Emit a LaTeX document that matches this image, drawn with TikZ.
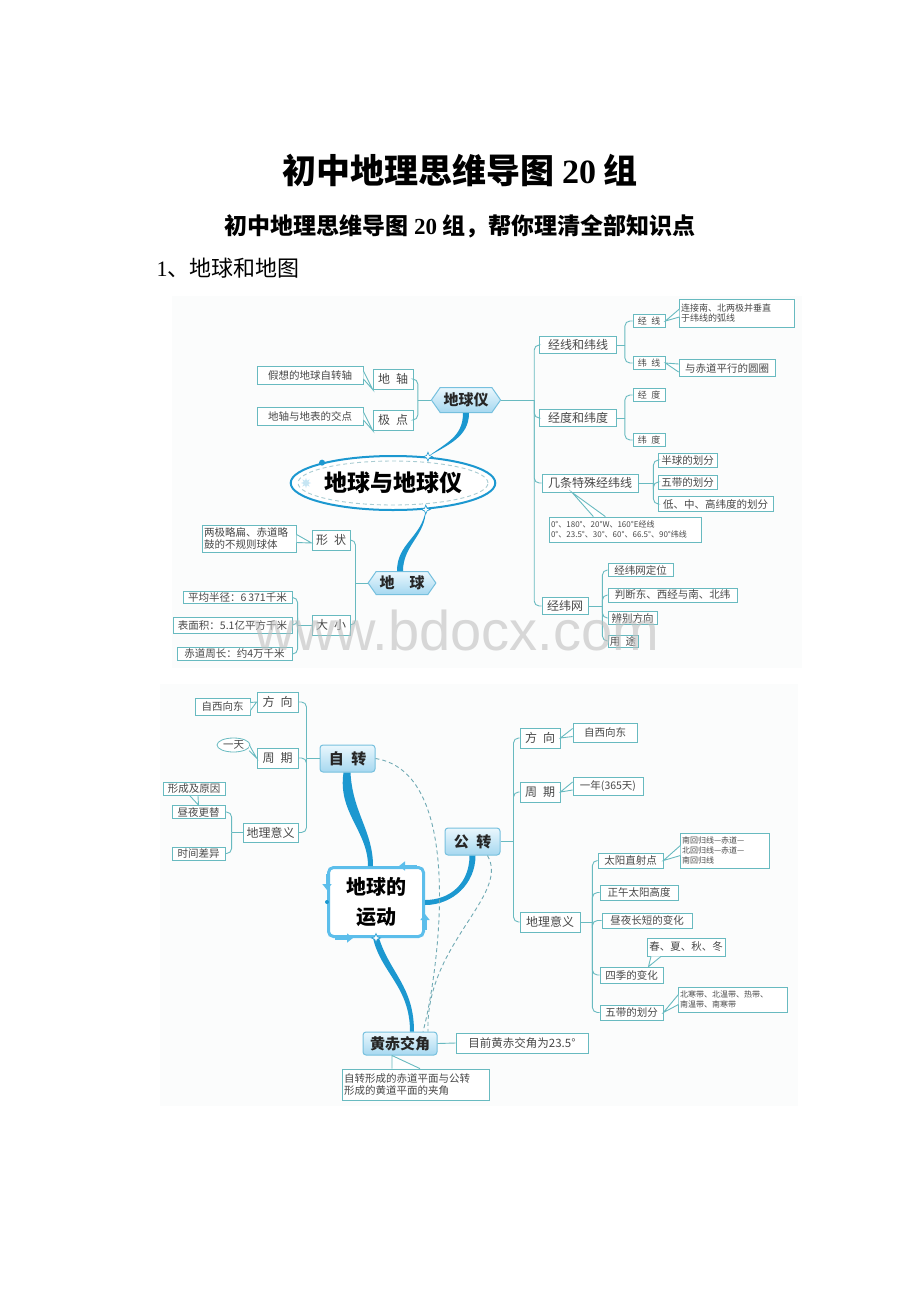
\documentclass[tikz,border=0pt]{standalone}
\usepackage{fontspec}
\setmainfont{Liberation Serif}
\newfontfamily\cjk{Noto Sans CJK SC}
\newfontfamily\wmfont{Liberation Sans}
\usepackage{tikz}
\usetikzlibrary{calc,shapes.geometric,shapes.symbols,arrows.meta}
\definecolor{leafc}{RGB}{104,186,192}
\definecolor{txtc}{RGB}{72,72,72}
\definecolor{hubline}{RGB}{118,192,222}
\definecolor{hubtop}{RGB}{234,247,253}
\definecolor{hubbot}{RGB}{166,216,240}
\definecolor{flowc}{RGB}{28,152,208}
\definecolor{ydqc}{RGB}{92,190,235}
\definecolor{dashc}{RGB}{112,170,180}
\definecolor{panelc}{RGB}{251,252,252}
\def\callout(#1)(#2)(#3){\fill[white] ($(#1)+(#3)$) -- (#2) -- ($(#1)-(#3)$) -- cycle; \draw[link,sharp corners] ($(#1)+(#3)$) -- (#2) -- ($(#1)-(#3)$);}
\tikzset{
	leaf/.style={draw=leafc, fill=white, text=txtc, line width=0.8pt, inner sep=1.2pt, font=\cjk\fontsize{10.5}{12}\selectfont},
	small/.style={leaf, font=\cjk\fontsize{9}{10.5}\selectfont, align=left},
	mid/.style={leaf, font=\cjk\fontsize{12}{14}\selectfont},
	hub/.style={draw=hubline, top color=hubtop, bottom color=hubbot, text=black!85, line width=1pt, rounded corners=3pt, font=\cjk\bfseries\fontsize{15}{17}\selectfont},
	hexhub/.style={hub, shape=signal, signal to=west and east, signal pointer angle=110, rounded corners=0pt},
	link/.style={draw=leafc, line width=0.9pt, rounded corners=5pt},
	flow/.style={fill=flowc},
	dashlink/.style={draw=dashc, line width=0.9pt, dash pattern=on 4pt off 3pt},
	burst/.style={star, star points=4, star point ratio=2.5, fill=white, draw=flowc, line width=0.6pt, minimum size=9pt, inner sep=0pt},
	corner/.style={draw=ydqc, line width=3pt, -{Triangle[length=6pt,width=9pt]}},
}

\begin{document}
\begin{tikzpicture}[x=1pt,y=-1pt]
	%%%%% START %%%%%
	\useasboundingbox[fill=white] (0,0) rectangle (920,1302);
	
	% headings
	\node (title) at (460,170) {\cjk\bfseries\fontsize{34}{40}\selectfont 初中地理思维导图 {\rmfamily\bfseries 20} 组};
	\node (subtitle) at (460,226) {\cjk\bfseries\fontsize{23}{27}\selectfont 初中地理思维导图 {\rmfamily\bfseries 20} 组，帮你理清全部知识点};
	\node[anchor=west] (section) at (153,268) {\fontsize{22}{26}\selectfont 1{\cjk 、地球和地图}};
	
	% map 1
	\fill[panelc] (172,296) rectangle (802,668);
	\node[leaf, minimum width=106, minimum height=18] (jiaxiang) at (310,375) {假想的地球自转轴};
	\node[mid, minimum width=40, minimum height=20] (dizhou) at (393,379) {地\enspace 轴};
	\node[leaf, minimum width=106, minimum height=18] (jiaodian) at (310,416) {地轴与地表的交点};
	\node[mid, minimum width=40, minimum height=20] (jidian) at (393,420) {极\enspace 点};
	\node[hexhub, minimum width=68, minimum height=25] (diqiuyi) at (466,400) {地球仪};
	
	\node[mid, minimum width=77, minimum height=17] (jwx) at (578,345) {经线和纬线};
	\node[small, minimum width=32, minimum height=13] (jingxian) at (649,321) {经\enspace 线};
	\node[small, minimum width=32, minimum height=13] (weixian) at (649,363) {纬\enspace 线};
	\node[small, text width=112, minimum height=28] (lianjie) at (737,313) {连接南、北两极并垂直\\于纬线的弧线};
	\node[leaf, minimum width=96, minimum height=17] (yuquan) at (727,368) {与赤道平行的圆圈};
	\node[mid, minimum width=77, minimum height=17] (jdwd) at (578,418) {经度和纬度};
	\node[small, minimum width=32, minimum height=13] (jingdu) at (649,395) {经\enspace 度};
	\node[small, minimum width=32, minimum height=13] (weidu) at (649,440) {纬\enspace 度};
	\node[mid, minimum width=96, minimum height=18] (jtts) at (590,483) {几条特殊经纬线};
	\node[leaf, minimum width=59, minimum height=14] (banqiu) at (687.5,460) {半球的划分};
	\node[leaf, minimum width=59, minimum height=14] (wudaia) at (687.5,482) {五带的划分};
	\node[leaf, minimum width=115, minimum height=15] (dzg) at (715.5,504) {低、中、高纬度的划分};
	\node[small, text width=149, minimum height=25, font=\cjk\fontsize{8}{10}\selectfont] (teshu) at (625.5,529.5) {0°、180°、20°W、160°E经线\\0°、23.5°、30°、60°、66.5°、90°纬线};
	\node[mid, minimum width=46, minimum height=17] (jww) at (565,606) {经纬网};
	\node[leaf, minimum width=65, minimum height=13] (dingwei) at (640.5,570) {经纬网定位};
	\node[leaf, minimum width=129, minimum height=14] (panduan) at (672.5,595) {判断东、西经与南、北纬};
	\node[leaf, minimum width=49, minimum height=13] (bianbie) at (632.5,618) {辨别方向};
	\node[leaf, minimum width=30, minimum height=12] (yongtu) at (623,641) {用\enspace 途};
	
	\node[ellipse, draw=flowc, line width=2pt, fill=white, minimum width=200, minimum height=54, font=\cjk\bfseries\fontsize{23}{27}\selectfont] (dqydq) at (393,483) {地球与地球仪};
	\draw[dashlink, draw=dashc!60] (dqydq.center) ellipse (95pt and 22pt);
	\fill[flowc] (dqydq.164) circle (3pt);
	\node[star, star points=8, star point ratio=2, fill=flowc!25, minimum size=10pt, inner sep=0pt] (sunmark) at (306,483) {};
	
	\node[hexhub, minimum width=65, minimum height=23] (diqiu) at (402,583) {地\quad 球};
	\node[mid, minimum width=38, minimum height=20] (xingzhuang) at (331,540) {形\enspace 状};
	\node[leaf, text width=91, minimum height=27, align=left] (liangji) at (249.5,538.5) {两极略扁、赤道略\\鼓的不规则球体};
	\node[mid, minimum width=38, minimum height=20] (daxiao) at (331,625) {大\enspace 小};
	\node[leaf, minimum width=109, minimum height=12] (banjing) at (237.5,597.5) {平均半径：6\,371千米};
	\node[leaf, minimum width=119, minimum height=16] (biaomian) at (232.5,625) {表面积：5.1亿平方千米};
	\node[leaf, minimum width=115, minimum height=13] (zhouchang) at (234.5,654) {赤道周长：约4万千米};
	
	\draw[link] (diqiuyi.west) -- ++(-13,0) coordinate (ta);
	\draw[link] (ta) |- (dizhou.east);
	\draw[link] (ta) |- (jidian.east);
	\draw[link] (diqiuyi.east) -- ++(33,0) coordinate (tb);
	\draw[link] (tb) |- (jwx.west);
	\draw[link] (tb) |- (jdwd.west);
	\draw[link] (tb) |- (jtts.west);
	\draw[link] (tb) |- (jww.west);
	\draw[link] (jwx.east) -- ++(8,0) coordinate (tc);
	\draw[link] (tc) |- (jingxian.west);
	\draw[link] (tc) |- (weixian.west);
	\draw[link] (jdwd.east) -- ++(8,0) coordinate (td);
	\draw[link] (td) |- (jingdu.west);
	\draw[link] (td) |- (weidu.west);
	\draw[link] (jtts.east) -- ++(15,0) coordinate (te);
	\draw[link] (te) |- (banqiu.west);
	\draw[link] (te) |- (wudaia.west);
	\draw[link] (te) |- (dzg.west);
	\draw[link] (jww.east) -- ++(14,0) coordinate (tf);
	\draw[link] (tf) |- (dingwei.west);
	\draw[link] (tf) |- (panduan.west);
	\draw[link] (tf) |- (bianbie.west);
	\draw[link] (tf) |- (yongtu.west);
	\draw[link] (diqiu.west) -- ++(-12,0) coordinate (tg);
	\draw[link] (tg) |- (xingzhuang.east);
	\draw[link] (tg) |- (daxiao.east);
	\draw[link] (daxiao.west) -- ++(-14,0) coordinate (th);
	\draw[link] (th) |- (banjing.east);
	\draw[link] (th) |- (biaomian.east);
	\draw[link] (th) |- (zhouchang.east);
	
	\callout(jiaxiang.east)(dizhou.south west)(0,4)
	\callout(jiaodian.east)(jidian.south west)(0,4)
	\callout(liangji.east)([yshift=-3pt]xingzhuang.west)(0,4)
	\coordinate (tsb) at ([xshift=50pt]teshu.north west);
	\callout(tsb)([xshift=-18pt]jtts.south)(6,0)
	\callout(lianjie.west)(jingxian.east)(0,4)
	\callout(yuquan.west)(weixian.east)(0,4)
	
	\fill[flow] ([xshift=-3pt]diqiuyi.south) .. controls +(0,24) and +(18,-14) .. (dqydq.37) .. controls +(20,-12) and +(0,24) .. ([xshift=3pt]diqiuyi.south) -- cycle;
	\fill[flow] (dqydq.-39) .. controls +(-4,28) and +(0,-28) .. ([xshift=-5pt]diqiu.north) -- ([xshift=1pt]diqiu.north) .. controls +(0,-26) and +(0,26) .. (dqydq.-39) -- cycle;
	\node[burst] (bursta) at (dqydq.37) {};
	\node[burst] (burstb) at (dqydq.-39) {};
	
	% map 2
	\fill[panelc] (160,684) rectangle (798,1106);
	\node[mid, minimum width=41, minimum height=20] (fxa) at (277.5,702) {方\enspace 向};
	\node[leaf, minimum width=55, minimum height=17] (zxxda) at (222.5,706.5) {自西向东};
	\node[mid, minimum width=41, minimum height=20] (zqa) at (277.5,758) {周\enspace 期};
	\node[leaf, ellipse, minimum width=33, minimum height=14, inner sep=0pt] (yitian) at (233.5,745) {一天};
	\node[hub, minimum width=55, minimum height=27] (zizhuan) at (347.5,758.5) {自\enspace 转};
	\node[mid, minimum width=55, minimum height=19] (dlyya) at (270.5,832.5) {地理意义};
	\node[leaf, minimum width=62, minimum height=13] (xcjyy) at (194,789) {形成及原因};
	\node[leaf, minimum width=53, minimum height=13] (zygt) at (198.5,812) {昼夜更替};
	\node[leaf, minimum width=53, minimum height=13] (sjcy) at (198.5,853.5) {时间差异};
	
	\node[mid, minimum width=40, minimum height=20] (fxb) at (540,738) {方\enspace 向};
	\node[leaf, minimum width=64, minimum height=19] (zxxdb) at (605,732.5) {自西向东};
	\node[mid, minimum width=40, minimum height=20] (zqb) at (540,792) {周\enspace 期};
	\node[leaf, minimum width=70, minimum height=18] (yinian) at (608,786) {一年(365天)};
	\node[hub, minimum width=55, minimum height=27] (gongzhuan) at (472.5,841.5) {公\enspace 转};
	\node[mid, minimum width=60, minimum height=20] (dlyyb) at (550,922) {地理意义};
	\node[leaf, minimum width=65, minimum height=15] (tyzsd) at (630.5,860.5) {太阳直射点};
	\node[small, text width=86, minimum height=35, font=\cjk\fontsize{8}{10}\selectfont] (nhgx) at (725,850.5) {南回归线—赤道—\\北回归线—赤道—\\南回归线};
	\node[leaf, minimum width=78, minimum height=15] (zwtygd) at (639,892.5) {正午太阳高度};
	\node[leaf, minimum width=90, minimum height=15] (zycd) at (647,920.5) {昼夜长短的变化};
	\node[leaf, minimum width=78, minimum height=18] (cxqd) at (686,947) {春、夏、秋、冬};
	\node[leaf, minimum width=63, minimum height=16] (sjbh) at (631.5,975) {四季的变化};
	\node[leaf, minimum width=63, minimum height=15] (wudaib) at (631.5,1012.5) {五带的划分};
	\node[small, text width=106, minimum height=25, font=\cjk\fontsize{8}{10}\selectfont] (bhd) at (733,999.5) {北寒带、北温带、热带、\\南温带、南寒带};
	
	\node[draw=ydqc, line width=3pt, rounded corners=5pt, fill=white, minimum width=95, minimum height=69, align=center, font=\cjk\bfseries\fontsize{20}{30}\selectfont] (ydq) at (376,902) {地球的\\运动};
	\draw[corner] ([xshift=-8pt]ydq.north east) -- ++(-18,0);
	\draw[corner] ([yshift=-8pt]ydq.north west) -- ++(0,16);
	\draw[corner] ([xshift=8pt]ydq.south west) -- ++(18,0);
	\draw[corner] ([yshift=8pt]ydq.south east) -- ++(0,-16);
	\fill[flowc] (ydq.west) circle (2pt);
	
	\node[hub, minimum width=74, minimum height=23] (hcjj) at (400,1043.5) {黄赤交角};
	\node[leaf, minimum width=132, minimum height=20, font=\cjk\fontsize{11.5}{13}\selectfont] (mqhc) at (522,1043) {目前黄赤交角为23.5°};
	\node[leaf, text width=144, minimum height=31, align=left] (jiajiao) at (416,1084.5) {自转形成的赤道平面与公转\\形成的黄道平面的夹角};
	
	\draw[link] (zizhuan.west) -- ++(-13,0) coordinate (ti);
	\draw[link] (ti) |- (fxa.east);
	\draw[link] (ti) |- (zqa.east);
	\draw[link] (ti) |- (dlyya.east);
	\draw[link] (dlyya.west) -- ++(-11,0) coordinate (tj);
	\draw[link] (tj) |- (zygt.east);
	\draw[link] (tj) |- (sjcy.east);
	\draw[link] (gongzhuan.east) -- ++(13,0) coordinate (tk);
	\draw[link] (tk) |- (fxb.west);
	\draw[link] (tk) |- (zqb.west);
	\draw[link] (tk) |- (dlyyb.west);
	\draw[link] (dlyyb.east) -- ++(12,0) coordinate (tl);
	\draw[link] (tl) |- (tyzsd.west);
	\draw[link] (tl) |- (zwtygd.west);
	\draw[link] (tl) |- (zycd.west);
	\draw[link] (tl) |- (sjbh.west);
	\draw[link] (tl) |- (wudaib.west);
	\draw[link] (hcjj.east) -- (mqhc.west);
	
	\callout(zxxda.east)(fxa.west)(0,4)
	\callout(yitian.-10)(zqa.west)(0,3)
	\callout(xcjyy.south)(zygt.north)(4,0)
	\callout(zxxdb.west)(fxb.east)(0,4)
	\callout(yinian.west)(zqb.east)(0,4)
	\callout(nhgx.west)(tyzsd.east)(0,5)
	\coordinate (cxb) at ([xshift=-30pt]cxqd.south);
	\callout(cxb)([xshift=17pt]sjbh.north)(5,0)
	\callout(bhd.west)(wudaib.east)(0,5)
	\coordinate (jjb) at ([xshift=-10pt]jiajiao.north);
	\callout(jjb)([xshift=-8pt]hcjj.south)(14,0)
	
	\fill[flow] ([xshift=-4pt]zizhuan.south) .. controls +(-6,40) and +(0,-35) .. ([xshift=-8pt]ydq.north) -- ([xshift=-3pt]ydq.north) .. controls +(0,-35) and +(2,40) .. ([xshift=3pt]zizhuan.south) -- cycle;
	\fill[flow] ([xshift=-3pt]gongzhuan.south) .. controls +(0,28) and +(25,0) .. ([yshift=2pt]ydq.east) -- ([yshift=-3pt]ydq.east) .. controls +(28,0) and +(0,28) .. ([xshift=3pt]gongzhuan.south) -- cycle;
	\fill[flow] ([xshift=-3pt]ydq.south) .. controls +(8,35) and +(0,-45) .. ([xshift=10pt]hcjj.north) -- ([xshift=14pt]hcjj.north) .. controls +(0,-45) and +(11,35) .. ([xshift=3pt]ydq.south) -- cycle;
	\node[burst] (burstc) at (ydq.south) {};
	
	\draw[dashlink] (zizhuan.east) .. controls +(95,15) and +(12,-42) .. ([xshift=23pt]hcjj.north);
	\draw[dashlink] ([xshift=15pt]gongzhuan.south) .. controls +(23,40) and +(-3,-87) .. ([xshift=28pt]hcjj.north);
	
	\node[text=black!25, opacity=0.6, font=\wmfont\fontsize{56}{60}\selectfont] (wm) at (457,630) {www.bdocx.com};
	%%%%% END %%%%%
\end{tikzpicture}
\end{document}
